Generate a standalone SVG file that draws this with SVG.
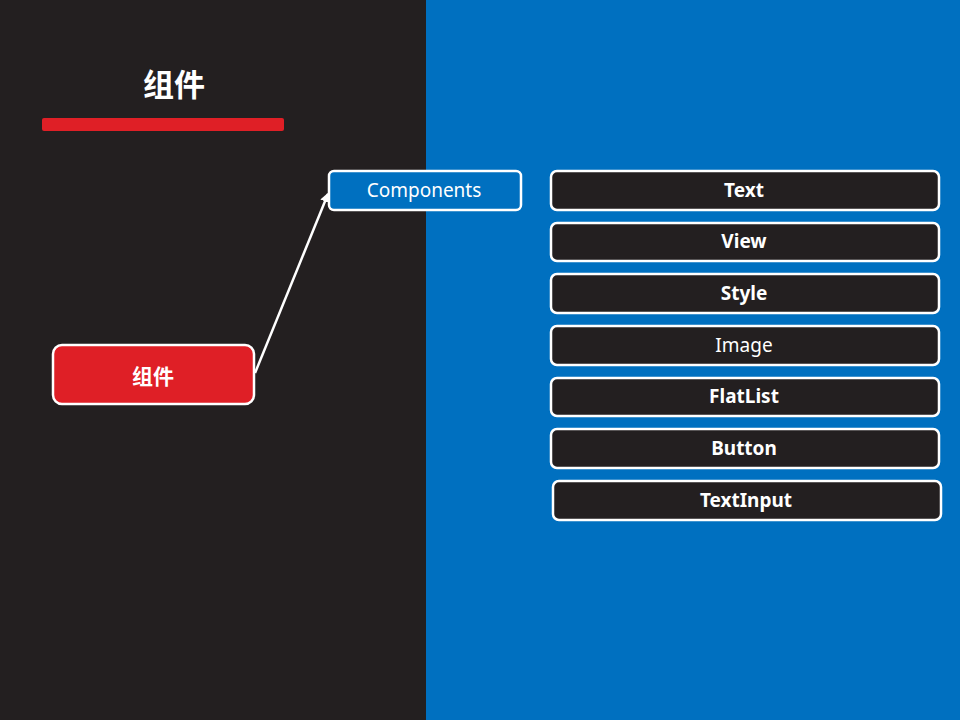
<svg xmlns="http://www.w3.org/2000/svg" width="960" height="720" viewBox="0 0 960 720">
  <defs>
    <style>
      .bg-dark { fill: #231f20; }
      .bg-blue { fill: #0070c0; }
      .node rect { stroke: #ffffff; stroke-width: 2.5; }
      .item rect { fill: #231f20; }
      .lbl { font-family: "Noto Sans", "Open Sans", "Noto Sans CJK SC", sans-serif; fill: #ffffff; text-anchor: middle; dominant-baseline: central; font-size: 19px; }
      .b { font-weight: bold; }
      .cjk { font-family: "Noto Sans CJK SC", "Noto Sans", sans-serif; }
      .link { stroke: #ffffff; stroke-width: 2.5; fill: none; }
    </style>
    <marker id="arrow" viewBox="0 0 10 10" refX="8" refY="5" markerWidth="4" markerHeight="4" orient="auto" markerUnits="strokeWidth">
      <path d="M0,0 L10,5 L0,10 z" fill="#ffffff"/>
    </marker>
  </defs>

  <!-- background panels -->
  <rect class="bg-dark" x="0" y="0" width="426" height="720"/>
  <rect class="bg-blue" x="426" y="0" width="534" height="720"/>

  <!-- heading -->
  <text class="lbl b cjk" x="174" y="82" style="font-size:31px">组件</text>
  <rect x="42" y="118" width="242" height="13" rx="2" fill="#df1f26"/>

  <!-- connectors -->
  <g id="connectors">
    <line class="link" x1="255" y1="373" x2="328" y2="194" marker-end="url(#arrow)"/>
  </g>

  <!-- root node -->
  <g id="node-root" class="node">
    <rect x="53" y="345" width="201" height="59" rx="9" fill="#df1f26"/>
    <text class="lbl b cjk" x="153" y="375" style="font-size:21px">组件</text>
  </g>

  <!-- category node -->
  <g id="node-components" class="node">
    <rect x="329" y="171" width="192" height="39" rx="5" fill="#0070c0"/>
    <text class="lbl" x="424" y="190">Components</text>
  </g>

  <!-- component list -->
  <g id="node-text" class="node item">
    <rect x="551" y="171" width="388" height="39" rx="6"/>
    <text class="lbl b" x="744" y="190">Text</text>
  </g>
  <g id="node-view" class="node item">
    <rect x="551" y="223" width="388" height="38" rx="6"/>
    <text class="lbl b" x="744" y="241">View</text>
  </g>
  <g id="node-style" class="node item">
    <rect x="551" y="274" width="388" height="39" rx="6"/>
    <text class="lbl b" x="744" y="293">Style</text>
  </g>
  <g id="node-image" class="node item">
    <rect x="551" y="326" width="388" height="39" rx="6"/>
    <text class="lbl" x="744" y="345">Image</text>
  </g>
  <g id="node-flatlist" class="node item">
    <rect x="551" y="378" width="388" height="38" rx="6"/>
    <text class="lbl b" x="744" y="396">FlatList</text>
  </g>
  <g id="node-button" class="node item">
    <rect x="551" y="429" width="388" height="39" rx="6"/>
    <text class="lbl b" x="744" y="448">Button</text>
  </g>
  <g id="node-textinput" class="node item">
    <rect x="553" y="481" width="388" height="39" rx="6"/>
    <text class="lbl b" x="746" y="500">TextInput</text>
  </g>
</svg>
